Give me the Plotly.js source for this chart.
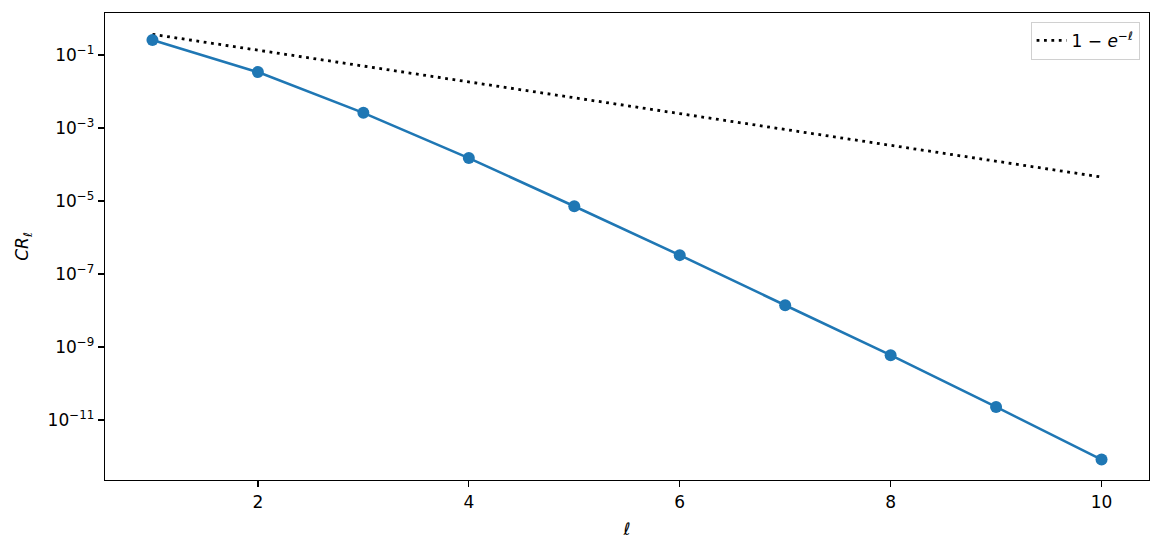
<!DOCTYPE html>
<html>
<head>
<meta charset="utf-8">
<script src="https://cdn.plot.ly/plotly-3.0.1.min.js"></script>
<style>
  body { margin: 0; background: #fff; }
  #chart { width: 1163px; height: 551px; }
</style>
</head>
<body>
<div id="chart"></div>
<script>
// values
const ell = [1, 2, 3, 4, 5, 6, 7, 8, 9, 10];
const crValues = [0.257, 0.034, 2.6e-3, 1.5e-4, 7.2e-6, 3.3e-7, 1.4e-8, 6.0e-10, 2.3e-11, 8.3e-13];
const refValues = [0.368, 0.135, 0.0498, 0.0183, 6.74e-3, 2.48e-3, 9.1e-4, 3.35e-4, 1.23e-4, 4.54e-5];
const yTickVals = [1e-1, 1e-3, 1e-5, 1e-7, 1e-9, 1e-11];
const yTickText = ['10<sup>−1</sup>', '10<sup>−3</sup>', '10<sup>−5</sup>', '10<sup>−7</sup>', '10<sup>−9</sup>', '10<sup>−11</sup>'];
const xTickVals = [2, 4, 6, 8, 10];

const font = 'DejaVu Sans, sans-serif';

const traces = [
  {
    x: ell,
    y: refValues,
    name: '1 − <i>e</i><sup>−<i>ℓ</i></sup>',
    type: 'scatter',
    mode: 'lines',
    line: { color: '#000000', width: 2.8, dash: '2.8px,4.6px' }
  },
  {
    x: ell,
    y: crValues,
    name: 'CR',
    type: 'scatter',
    mode: 'lines+markers',
    line: { color: '#1f77b4', width: 2.6 },
    marker: { color: '#1f77b4', size: 12 },
    showlegend: false
  }
];

const layout = {
  width: 1163,
  height: 551,
  paper_bgcolor: '#ffffff',
  plot_bgcolor: '#ffffff',
  font: { family: font, size: 17, color: '#000000' },
  margin: { l: 105, r: 14, t: 13, b: 71 },
  showlegend: true,
  xaxis: {
    range: [0.55, 10.45],
    tickvals: xTickVals,
    ticks: 'outside',
    ticklen: 6,
    tickwidth: 1.3,
    tickcolor: '#000',
    showline: true,
    linecolor: '#000',
    linewidth: 1.3,
    mirror: true,
    showgrid: false,
    zeroline: false,
    title: { text: '<i>ℓ</i>', font: { family: font, size: 17 }, standoff: 12 }
  },
  yaxis: {
    type: 'log',
    range: [-12.64, 0.15],
    tickvals: yTickVals,
    ticktext: yTickText,
    ticks: 'outside',
    ticklen: 6,
    tickwidth: 1.3,
    tickcolor: '#000',
    showline: true,
    linecolor: '#000',
    linewidth: 1.3,
    mirror: true,
    showgrid: false,
    zeroline: false,
    title: { text: '<i>CR</i><sub><i>ℓ</i></sub>', font: { family: font, size: 17 }, standoff: 14 }
  },
  legend: {
    x: 0.991,
    y: 0.981,
    xanchor: 'right',
    yanchor: 'top',
    bgcolor: '#ffffff',
    bordercolor: '#d0d0d0',
    borderwidth: 1,
    font: { family: font, size: 17 }
  }
};

Plotly.newPlot('chart', traces, layout, { displayModeBar: false, staticPlot: true });
</script>
</body>
</html>
